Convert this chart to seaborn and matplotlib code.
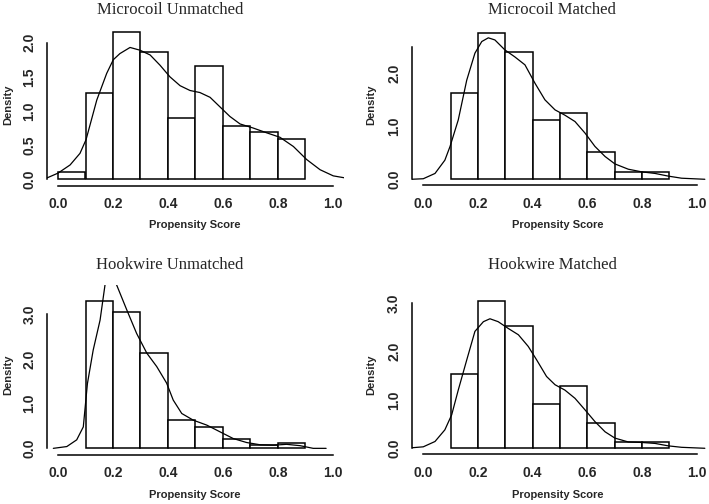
import numpy as np
import pandas as pd
import matplotlib.pyplot as plt
import seaborn as sns

# ---- data ----
# histogram density heights per 0.1-wide bin (left edges given)
mu_edges = [0.0, 0.1, 0.2, 0.3, 0.4, 0.5, 0.6, 0.7, 0.8, 0.9]
mu_dens = [0.10, 1.27, 2.15, 1.86, 0.89, 1.66, 0.785, 0.69, 0.585]

mm_edges = [0.1, 0.2, 0.3, 0.4, 0.5, 0.6, 0.7, 0.8, 0.9]
mm_dens = [1.63, 2.77, 2.40, 1.11, 1.26, 0.51, 0.13, 0.13]

hu_edges = [0.1, 0.2, 0.3, 0.4, 0.5, 0.6, 0.7, 0.8, 0.9]
hu_dens = [3.30, 3.06, 2.13, 0.63, 0.48, 0.21, 0.08, 0.11]

hm_edges = [0.1, 0.2, 0.3, 0.4, 0.5, 0.6, 0.7, 0.8, 0.9]
hm_dens = [1.53, 3.04, 2.53, 0.91, 1.28, 0.52, 0.12, 0.13]

# kernel density curves
mu_kx = [-0.04, 0.0, 0.044, 0.08, 0.102, 0.141, 0.177, 0.201, 0.225, 0.262, 0.298, 0.335,
         0.371, 0.407, 0.444, 0.48, 0.516, 0.553, 0.589, 0.625, 0.662, 0.71, 0.759, 0.807,
         0.856, 0.904, 0.953, 1.001, 1.044]
mu_ky = [0.02, 0.09, 0.21, 0.38, 0.58, 1.16, 1.55, 1.75, 1.84, 1.93, 1.89, 1.82,
         1.67, 1.50, 1.37, 1.30, 1.27, 1.20, 1.06, 0.92, 0.81, 0.75, 0.68, 0.615,
         0.48, 0.29, 0.14, 0.05, 0.02]

mm_kx = [-0.043, 0.0, 0.043, 0.079, 0.098, 0.128, 0.159, 0.189, 0.214, 0.238, 0.262, 0.299,
         0.335, 0.372, 0.409, 0.445, 0.482, 0.518, 0.555, 0.592, 0.628, 0.665, 0.701, 0.75,
         0.799, 0.848, 0.896, 0.945, 1.03]
mm_ky = [0.0, 0.01, 0.11, 0.36, 0.62, 1.12, 1.87, 2.38, 2.60, 2.67, 2.63, 2.44,
         2.31, 2.16, 1.81, 1.50, 1.31, 1.21, 1.09, 0.87, 0.62, 0.43, 0.29, 0.19,
         0.14, 0.11, 0.06, 0.02, 0.0]

hu_kx = [-0.017, 0.032, 0.068, 0.092, 0.107, 0.128, 0.153, 0.171, 0.19, 0.213, 0.25, 0.286,
         0.323, 0.359, 0.395, 0.419, 0.45, 0.492, 0.541, 0.589, 0.637, 0.686, 0.735, 0.783,
         0.831, 0.88, 0.928, 0.975]
hu_ky = [0.0, 0.04, 0.19, 0.48, 1.45, 2.20, 2.87, 3.66, 4.0, 3.66, 3.10, 2.57,
         2.13, 1.83, 1.46, 1.08, 0.78, 0.63, 0.52, 0.37, 0.22, 0.13, 0.08, 0.07,
         0.09, 0.06, 0.0, 0.0]

hm_kx = [-0.043, 0.0, 0.043, 0.079, 0.104, 0.128, 0.159, 0.189, 0.22, 0.244, 0.274, 0.311,
         0.348, 0.384, 0.415, 0.451, 0.482, 0.518, 0.555, 0.592, 0.628, 0.665, 0.701, 0.75,
         0.799, 0.848, 0.896, 0.945, 1.03]
hm_ky = [0.01, 0.03, 0.14, 0.38, 0.69, 1.20, 1.82, 2.41, 2.61, 2.67, 2.61, 2.47,
         2.34, 2.10, 1.82, 1.48, 1.31, 1.20, 1.03, 0.79, 0.55, 0.34, 0.21, 0.13,
         0.12, 0.10, 0.05, 0.02, 0.0]

titles = ["Microcoil Unmatched", "Microcoil Matched", "Hookwire Unmatched", "Hookwire Matched"]
x_ticks = [0.0, 0.2, 0.4, 0.6, 0.8, 1.0]

sns.set_style("white")
plt.rcParams['font.family'] = ['Liberation Sans', 'DejaVu Sans']

W, H = 709, 504
fig = plt.figure(figsize=(W / 100, H / 100), dpi=100)

panels = [
    # edges, dens, kx, ky, rect px (left, top, right, bottom), xlim, ylim, y ticks, title pos, label x/y px
    (mu_edges, mu_dens, mu_kx, mu_ky, (47, 25.6, 344, 185.5), (-0.04, 1.04), (-0.091, 2.25),
     [0.0, 0.5, 1.0, 1.5, 2.0], True, (170, 10), (8, 105), (195, 225)),
    (mm_edges, mm_dens, mm_kx, mm_ky, (411.5, 26.7, 708.4, 185.1), (-0.043, 1.043), (-0.11, 2.88),
     [0.0, 0.5, 1.0, 1.5, 2.0, 2.5], False, (552, 10), (371, 105), (558, 225)),
    (hu_edges, hu_dens, hu_kx, hu_ky, (47, 284.8, 344, 454.6), (-0.04, 1.04), (-0.14, 3.66),
     [0.0, 0.5, 1.0, 1.5, 2.0, 2.5, 3.0], False, (170, 265), (8, 375), (195, 495)),
    (hm_edges, hm_dens, hm_kx, hm_ky, (411.5, 295.0, 708.4, 454.1), (-0.043, 1.043), (-0.12, 3.16),
     [0.0, 0.5, 1.0, 1.5, 2.0, 2.5, 3.0], False, (552, 265), (371, 375), (558, 495)),
]

for i, (edges, dens, kx, ky, rect, xlim, ylim, yt, all_lab, tpos, dpos, ppos) in enumerate(panels):
    l, t, r, b = rect
    ax = fig.add_axes([l / W, 1 - b / H, (r - l) / W, (b - t) / H])
    mids = [(edges[k] + edges[k + 1]) / 2 for k in range(len(dens))]
    sns.histplot(x=mids, weights=dens, bins=edges, stat="count", ax=ax,
                 color="white", edgecolor="black", linewidth=1.1, alpha=1)
    sns.lineplot(x=kx, y=ky, ax=ax, color="black", linewidth=0.9, sort=False, estimator=None)
    ax.set_xlim(*xlim)
    ax.set_ylim(*ylim)
    ax.set_xlabel("")
    ax.set_ylabel("")
    for s in ["top", "right"]:
        ax.spines[s].set_visible(False)
    for s in ["left", "bottom"]:
        ax.spines[s].set_linewidth(1.1)
        ax.spines[s].set_color("black")
    ax.spines["bottom"].set_bounds(0, 1)
    ax.spines["left"].set_bounds(0, yt[-1])
    ax.set_xticks(x_ticks)
    ax.set_xticklabels(["%.1f" % v for v in x_ticks], fontsize=10, fontweight="bold")
    ax.set_yticks(yt)
    ylabs = ["%.1f" % v if (all_lab or v == int(v)) else "" for v in yt]
    ax.set_yticklabels(ylabs, fontsize=10, fontweight="bold", rotation=90, va="center")
    ax.tick_params(axis="both", direction="out", length=4.5, width=1.1, color="black", pad=3)
    ax.tick_params(axis="x", pad=4)
    ax.patch.set_alpha(0)

    fig.text(tpos[0] / W, 1 - tpos[1] / H, titles[i], ha="center", va="center",
             fontsize=12, family="Liberation Serif")
    fig.text(dpos[0] / W, 1 - dpos[1] / H, "Density", ha="center", va="center",
             rotation=90, fontsize=8, fontweight="bold")
    fig.text(ppos[0] / W, 1 - ppos[1] / H, "Propensity Score", ha="center", va="center",
             fontsize=8, fontweight="bold")

fig.savefig("out.png", dpi=100)
